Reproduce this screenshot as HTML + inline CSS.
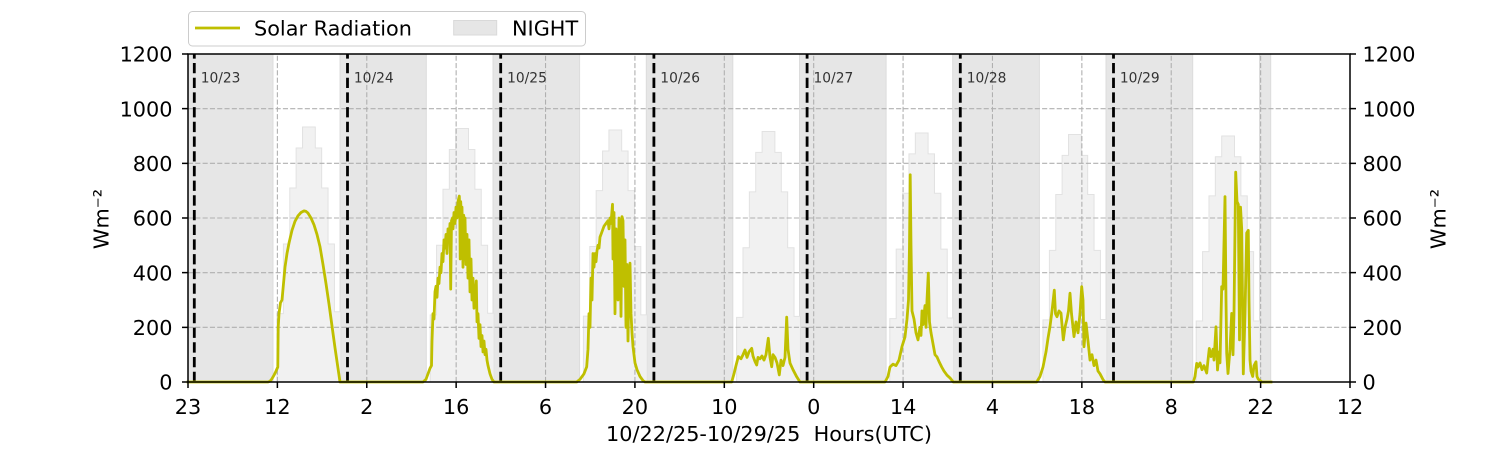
<!DOCTYPE html>
<html>
<head>
<meta charset="utf-8">
<style>
html,body{margin:0;padding:0;background:#fff;}
svg{display:block;}
text{font-family:"DejaVu Sans","Liberation Sans",sans-serif;}
</style>
</head>
<body>
<svg width="1500" height="450" viewBox="0 0 1500 450" xmlns="http://www.w3.org/2000/svg">
<rect x="0" y="0" width="1500" height="450" fill="#ffffff"/>

<!-- night spans -->
<g fill="#e6e6e6" stroke="#dcdcdc" stroke-width="1">
<rect x="188" y="54" width="85" height="328"/>
<rect x="340" y="54" width="86.3" height="328"/>
<rect x="493" y="54" width="86.6" height="328"/>
<rect x="646.3" y="54" width="86.5" height="328"/>
<rect x="799.5" y="54" width="86.6" height="328"/>
<rect x="952.7" y="54" width="86.7" height="328"/>
<rect x="1106" y="54" width="86.7" height="328"/>
<rect x="1259.5" y="54" width="11.2" height="328"/>
</g>

<!-- clear-sky step histograms -->
<g fill="#f1f1f1" stroke="#e2e2e2" stroke-width="1">
<path d="M277,382 V313.67 h6.38 V243.97 h6.38 V187.94 h6.38 V148.03 h6.38 V126.98 h12.77 V148.03 h6.38 V187.94 h6.38 V243.97 h6.38 V311.75 h6.39 V382 Z"/>
<path d="M430.2,382 V314.90 h6.38 V245.25 h6.38 V189.25 h6.38 V149.48 h6.38 V128.49 h12.77 V149.48 h6.38 V189.25 h6.38 V245.25 h6.38 V313.31 h6.39 V382 Z"/>
<path d="M583.4,382 V316.13 h6.38 V246.51 h6.38 V190.58 h6.38 V150.95 h6.38 V129.99 h12.77 V150.95 h6.38 V190.58 h6.38 V246.51 h6.38 V314.84 h6.39 V382 Z"/>
<path d="M736.6,382 V317.36 h6.38 V247.80 h6.38 V191.90 h6.38 V152.40 h6.38 V131.49 h12.77 V152.40 h6.38 V191.90 h6.38 V247.80 h6.38 V316.40 h6.39 V382 Z"/>
<path d="M889.8,382 V318.59 h6.38 V249.08 h6.38 V193.21 h6.38 V153.85 h6.38 V132.99 h12.77 V153.85 h6.38 V193.21 h6.38 V249.08 h6.38 V317.96 h6.39 V382 Z"/>
<path d="M1043,382 V319.82 h6.38 V250.34 h6.38 V194.55 h6.38 V155.33 h6.38 V134.49 h12.77 V155.33 h6.38 V194.55 h6.38 V250.34 h6.38 V319.49 h6.39 V382 Z"/>
<path d="M1196.2,382 V321.05 h6.38 V251.62 h6.38 V195.86 h6.38 V156.78 h6.38 V136.00 h12.77 V156.78 h6.38 V195.86 h6.38 V251.62 h6.38 V321.05 h6.39 V382 Z"/>
</g>

<!-- grid -->
<g stroke="#b0b0b0" stroke-width="1.1" stroke-dasharray="5.1 2.2" fill="none">
<path d="M188,327.33 H1350"/>
<path d="M188,272.67 H1350"/>
<path d="M188,218 H1350"/>
<path d="M188,163.33 H1350"/>
<path d="M188,108.67 H1350"/>
<path d="M277.38,382 V54"/>
<path d="M366.77,382 V54"/>
<path d="M456.15,382 V54"/>
<path d="M545.54,382 V54"/>
<path d="M634.92,382 V54"/>
<path d="M724.31,382 V54"/>
<path d="M813.69,382 V54"/>
<path d="M903.08,382 V54"/>
<path d="M992.46,382 V54"/>
<path d="M1081.85,382 V54"/>
<path d="M1171.23,382 V54"/>
<path d="M1260.62,382 V54"/>
</g>

<!-- date lines -->
<g stroke="#000" stroke-width="2.8" stroke-dasharray="10.3 4.4" fill="none">
<path d="M194.3,382 V54"/>
<path d="M347.5,382 V54"/>
<path d="M500.7,382 V54"/>
<path d="M653.9,382 V54"/>
<path d="M807.1,382 V54"/>
<path d="M960.3,382 V54"/>
<path d="M1113.5,382 V54"/>
</g>
<g font-size="13.8" fill="#333">
<text x="200.7" y="82.3">10/23</text>
<text x="353.9" y="82.3">10/24</text>
<text x="507.1" y="82.3">10/25</text>
<text x="660.3" y="82.3">10/26</text>
<text x="813.5" y="82.3">10/27</text>
<text x="966.7" y="82.3">10/28</text>
<text x="1119.9" y="82.3">10/29</text>
</g>

<!-- solar radiation -->
<polyline fill="none" stroke="#bfbf00" stroke-width="2.8" stroke-linejoin="round" stroke-linecap="square" points="
188,382 268,382 270,381.2 272,378.7 274,375.2 276,371.1 277.8,367 278.2,327.3 279,313.7 280.5,302.7 282,300 283,289.1 285,267.2 287,253.5 289,243.1 292,230.3 295,221.3 298,215.8 301,212.5 304,210.9 306,211.4 308,213.1 311,218 314,224.8 317,234.4 320,246.7 323,264.5 326,283.6 329,304.1 332,326 335,347.8 338,368.3 340,382
423,382 426,379.3 428,373.8 430,368.3 431.5,365.6 432,341 433,313.7 434,319.1 435,291.8 436,286.3 437,297.3 438,278.1 439,283.6 440,267.2 441,272.7 442,253.5 443,261.7 444,239.9 445,248.1 446,234.4 447,253.5 448,228.9 449,239.9 450,223.5 450.7,289.1 451.5,220.7 452.5,218 453,228.9 454,212.5 455,223.5 456,207.1 457,218 458,201.6 459.3,196.1 459.8,212.5 460.2,259 460.7,201.6 461.5,218 462,207.1 463,267.2 463.7,215.3 464.5,228.9 465,218 466,264.5 467,234.4 468,278.1 469,239.9 470,291.8 471,259 472,300 473,278.1 474,308.2 475.5,291.8 476.3,280.9 477,321.9 478,313.7 479,338.3 480,324.6 481,346.5 482,335.5 483,351.9 484,341 485,354.7 486,349.2 487,360.1 488,365.6 490,373.8 492,379.3 494,382
576.7,382 580,379.3 584,373.8 586.7,366.7 588,349.2 589,313.7 590,327.3 591,278.1 592,300 593,253.5 594,267.2 595,253.5 596,261.7 597,250.8 598,245.3 599,248.1 600,237.1 602,231.7 604,226.2 606,223.5 608,220.7 609,228.9 610,218 611,223.5 612.5,204.3 613,259 614,212.5 615,313.7 616,228.9 617,272.7 618,300 619,218 620,228.9 621,316.4 622,216.6 623,220.7 624,286.3 625,239.9 626,327.3 627,264.5 628,341 629,278.1 630,263.1 631,313.7 632,332.8 633,346.5 635,362.9 637,369.7 640,376.5 643,380.6 645,382
731.7,382 734,373.8 736,365.6 738.3,356.6 741,358.8 743,354.7 745,350 747,357.4 749,351.9 751.7,348.4 753,356 755,361.5 756.7,365 758,357.4 760,358.8 762,356 764,360.1 766,354.7 768.3,338.3 770,357.4 771.7,366.7 773,354.7 775,357.4 777,362.9 779.3,374.9 781,360.1 783,365.6 785,357.4 786.7,317.2 788,349.2 790,363.1 793,369.7 796.7,376.8 800,382
885,382 888,376.5 890,367 893,364.2 896,365.6 899,360.1 902,346.5 905,336.9 907,319.1 908.5,300 909.5,245.3 910.2,174.8 911,245.3 912,310.9 914,319.1 916,332.8 918,339.9 920,327.3 921,335.5 922,310.9 923,324.6 925,305.5 926,327.3 927,300 928.3,273.2 929.5,321.9 931,332.8 933,343.7 935,354.7 937,356.9 939,361.5 941.7,367 944,371.1 947,375.2 950,377.9 953.3,382
1036.7,382 1040,376.5 1043,367 1046,351.9 1048,338.3 1050,326.5 1052,310.9 1054.3,290.2 1055.5,313.7 1057,316.7 1059,310.9 1061,313.1 1063.3,339.9 1065,327.3 1067,319.1 1068.5,310.9 1070,293.2 1071.5,313.7 1073,327.3 1074,336.6 1076,321.9 1078,332.8 1080,313.7 1081.7,286.6 1083,300 1084,346.7 1086,323 1088,341 1090,360.1 1092,354.7 1094,365.6 1096,360.1 1098,371.1 1100,373.8 1103.3,380.1 1105,382
1193.3,382 1195,376.5 1196.7,363.4 1198,367 1200,362.9 1202,369.7 1204,365.6 1206.7,373 1208,360.1 1209.3,348.4 1211,356.6 1213,349.2 1214,360.1 1216,326.8 1217.5,370 1219,351.9 1220,362.9 1221.7,286.6 1223,289.1 1225,196.7 1226,300 1226.7,353 1228,373.5 1230,349.2 1231.7,313.4 1233,354.7 1234,313.7 1235.7,172.1 1237,201.6 1238.3,204.3 1239.5,339.9 1240.5,207.1 1241.7,228.9 1242.5,300 1243.3,373.8 1245,313.7 1246.7,233 1248.3,230.3 1249,300 1250,360.1 1251,371.1 1252.7,376.5 1254,365.6 1256,361.8 1257,376.5 1258.3,379.3 1262,382 1271,382"/>

<!-- spines -->
<rect x="188" y="54" width="1162" height="328" fill="none" stroke="#000" stroke-width="1.5"/>

<!-- ticks -->
<g stroke="#000" stroke-width="1.5">
<path d="M188,382 v6 M277.38,382 v6 M366.77,382 v6 M456.15,382 v6 M545.54,382 v6 M634.92,382 v6 M724.31,382 v6 M813.69,382 v6 M903.08,382 v6 M992.46,382 v6 M1081.85,382 v6 M1171.23,382 v6 M1260.62,382 v6 M1350,382 v6"/>
<path d="M182,382 h6 M182,327.33 h6 M182,272.67 h6 M182,218 h6 M182,163.33 h6 M182,108.67 h6 M182,54 h6"/>
<path d="M1350,382 h6 M1350,327.33 h6 M1350,272.67 h6 M1350,218 h6 M1350,163.33 h6 M1350,108.67 h6 M1350,54 h6"/>
</g>

<!-- tick labels -->
<g font-size="20.8" fill="#000" text-anchor="middle">
<text x="188" y="414">23</text>
<text x="277.38" y="414">12</text>
<text x="366.77" y="414">2</text>
<text x="456.15" y="414">16</text>
<text x="545.54" y="414">6</text>
<text x="634.92" y="414">20</text>
<text x="724.31" y="414">10</text>
<text x="813.69" y="414">0</text>
<text x="903.08" y="414">14</text>
<text x="992.46" y="414">4</text>
<text x="1081.85" y="414">18</text>
<text x="1171.23" y="414">8</text>
<text x="1260.62" y="414">22</text>
<text x="1350" y="414">12</text>
</g>
<g font-size="20.8" fill="#000" text-anchor="end">
<text x="172.5" y="389.6">0</text>
<text x="172.5" y="334.9">200</text>
<text x="172.5" y="280.3">400</text>
<text x="172.5" y="225.6">600</text>
<text x="172.5" y="170.9">800</text>
<text x="172.5" y="116.3">1000</text>
<text x="172.5" y="61.6">1200</text>
</g>
<g font-size="20.8" fill="#000" text-anchor="start">
<text x="1362.5" y="389.6">0</text>
<text x="1362.5" y="334.9">200</text>
<text x="1362.5" y="280.3">400</text>
<text x="1362.5" y="225.6">600</text>
<text x="1362.5" y="170.9">800</text>
<text x="1362.5" y="116.3">1000</text>
<text x="1362.5" y="61.6">1200</text>
</g>

<!-- axis labels -->
<text x="769" y="441" font-size="20.8" text-anchor="middle">10/22/25-10/29/25&#160; Hours(UTC)</text>
<text transform="translate(108.5,219) rotate(-90)" font-size="20.8" text-anchor="middle">Wm⁻²</text>
<text transform="translate(1445.5,219) rotate(-90)" font-size="20.8" text-anchor="middle">Wm⁻²</text>

<!-- legend -->
<rect x="188.5" y="11.5" width="397" height="34.5" rx="4" ry="4" fill="#ffffff" fill-opacity="0.85" stroke="#cccccc" stroke-width="1"/>
<line x1="195" y1="28" x2="240" y2="28" stroke="#bfbf00" stroke-width="2.8"/>
<text x="254" y="35.5" font-size="20.8" fill="#000">Solar Radiation</text>
<rect x="453.7" y="20.5" width="43" height="14.5" fill="#e6e6e6" stroke="#d9d9d9" stroke-width="1"/>
<text x="512" y="35.5" font-size="20.8" fill="#000">NIGHT</text>
</svg>
</body>
</html>
